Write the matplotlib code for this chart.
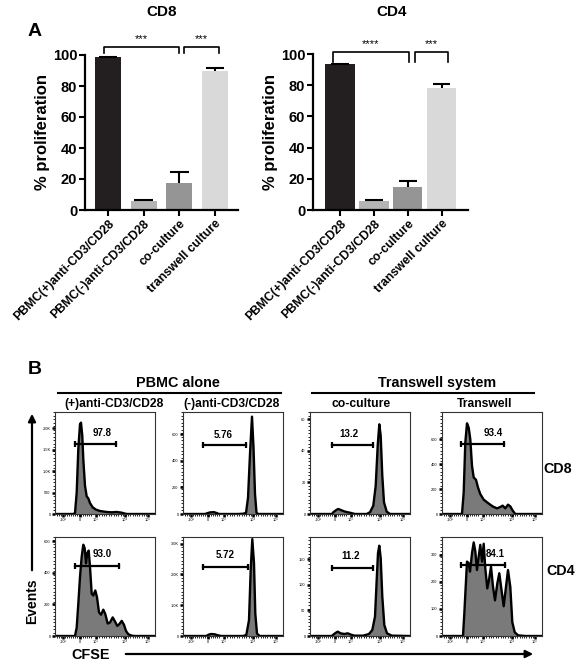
import numpy as np
import matplotlib
matplotlib.use("Agg")
import matplotlib.pyplot as plt
from matplotlib.patches import FancyArrowPatch
from matplotlib.lines import Line2D

plt.rcParams['font.family'] = ['Liberation Sans', 'DejaVu Sans']
plt.rcParams['font.weight'] = 'bold'

# ---------------- Panel A data ----------------
conditions = ["PBMC(+)anti-CD3/CD28", "PBMC(-)anti-CD3/CD28", "co-culture", "transwell culture"]
cd8_values = [98.5, 6.0, 17.5, 90.0]
cd8_errors = [0.3, 0.3, 7.0, 1.5]
cd4_values = [93.5, 6.0, 14.8, 78.3]
cd4_errors = [0.3, 0.3, 3.9, 2.5]
bar_colors = ["#231f20", "#b4b4b4", "#959595", "#d9d9d9"]
cd8_sig = ["***", "***"]
cd4_sig = ["****", "***"]

# ---------------- Panel B data (histograms, x in display channel 0-100) ----------------
x_tick_pos = [8, 24.5, 40.5, 70, 92.5]
x_tick_labels = ["-10³", "0", "10³", "10⁴", "10⁵"]

h_cd8_pos_x = [0, 18.3, 20, 21.7, 23.3, 25, 26, 27.3, 28.3, 30, 31.7, 33.3, 35, 37.7, 41, 45, 51.7, 56.7, 61.7, 66.7, 70, 72.3, 100]
h_cd8_pos_y = [0, 0, 23, 504, 1512, 2093, 2132, 1822, 1279, 659, 411, 364, 256, 155, 101, 70, 47, 39, 47, 31, 8, 0, 0]
h_cd8_neg_x = [0, 22, 24, 27, 31, 34, 36, 55, 60, 63, 65, 67, 69, 70.5, 72, 73.5, 75, 100]
h_cd8_neg_y = [0, 0, 5, 12, 14, 6, 0, 0, 2, 8, 120, 450, 730, 500, 150, 10, 0, 0]
h_cd8_co_x = [0, 22, 23.3, 26.7, 28.3, 31.7, 35, 40, 45, 56.7, 60, 63.3, 65.7, 67.7, 69.3, 70.7, 72.3, 74, 76.7, 80, 100]
h_cd8_co_y = [0, 0, 1.1, 2.7, 3.2, 2.3, 1.5, 0.8, 0, 0, 1.1, 5.3, 17.9, 43.2, 56.8, 49.5, 24.2, 7.4, 1.5, 0, 0]
h_cd8_tw_x = [0, 20, 21.7, 23.3, 25, 26.7, 28.3, 30, 31.7, 34, 36, 38.3, 41.7, 46, 50.7, 55, 58.3, 60.7, 63.3, 66, 68.3, 70.7, 73.3, 100]
h_cd8_tw_y = [0, 0, 173, 573, 728, 693, 600, 387, 293, 275, 213, 160, 115, 88, 61, 45, 56, 67, 45, 75, 61, 27, 0, 0]

h_cd4_pos_x = [0, 20, 21.7, 23.3, 25, 26.7, 28.3, 29.7, 31, 32.3, 33.7, 35, 36.7, 38.3, 40.3, 42, 44, 46, 48.3, 50.3, 52.7, 55, 57.7, 60, 62.3, 64.3, 66.7, 69, 71, 73.3, 76.7, 80, 100]
h_cd4_pos_y = [0, 0, 54, 204, 375, 504, 579, 557, 461, 525, 542, 439, 268, 257, 289, 246, 150, 135, 167, 139, 79, 86, 118, 92, 64, 75, 96, 71, 32, 11, 2, 0, 0]
h_cd4_neg_x = [0, 23.3, 25.7, 28.3, 31.7, 35, 38.3, 60, 63.3, 66, 67.7, 69.3, 71, 72.3, 74, 76.7, 100]
h_cd4_neg_y = [0, 0, 44, 65, 55, 22, 0, 0, 33, 513, 2148, 3150, 2366, 731, 76, 0, 0]
h_cd4_co_x = [0, 21.7, 25, 27.7, 30.7, 34.3, 37.7, 41, 44.3, 53.3, 59, 62.3, 65, 66.7, 68, 69.3, 70.7, 72.3, 74.3, 77, 81.7, 100]
h_cd4_co_y = [0, 0, 5.2, 8.5, 5.2, 3.9, 5.2, 2.6, 0.7, 0.7, 3.9, 11.7, 37.8, 109.5, 161.7, 176, 151.9, 76.9, 21.5, 5.2, 0.7, 0]
h_cd4_tw_x = [0, 21, 22.3, 23.7, 25, 26.7, 28, 30, 31.7, 33.3, 35, 36.7, 38.3, 40, 41.7, 43.3, 45.3, 47, 49, 51, 53, 55.3, 57.3, 59.3, 61.7, 64, 66, 68.3, 70.3, 72.7, 76, 83.3, 100]
h_cd4_tw_y = [0, 0, 82, 182, 275, 269, 238, 306, 346, 313, 244, 294, 337, 275, 341, 250, 176, 207, 257, 182, 132, 194, 232, 176, 110, 182, 244, 182, 51, 14, 2.5, 0, 0]

hist_ymax = [2380, 765, 64.6, 819, 628, 3217, 193, 366]
hist_yticks = [[0, 500, 1000, 1500, 2000], [0, 200, 400, 600], [0, 20, 40, 60], [0, 200, 400, 600],
               [0, 200, 400, 600], [0, 1000, 2000, 3000], [0, 50, 100, 150], [0, 100, 200, 300]]
hist_yticklabels = [["0", "500", "1.0K", "1.5K", "2.0K"], ["0", "200", "400", "600"], ["0", "20", "40", "60"],
                    ["0", "200", "400", "600"], ["0", "200", "400", "600"], ["0", "1.0K", "2.0K", "3.0K"],
                    ["0", "50", "100", "150"], ["0", "100", "200", "300"]]
gate_labels = ["97.8", "5.76", "13.2", "93.4", "93.0", "5.72", "11.2", "84.1"]
gate_x0 = [20, 20, 22, 19, 20, 20, 22, 19]
gate_x1 = [61, 63, 63, 61.7, 64, 65, 63, 62.7]
gate_y = [1636, 519, 43.6, 560, 444, 2257, 132, 263]
label_x = [46.7, 40, 39, 51.7, 46.7, 41.7, 40.7, 53.3]
label_y = [1884, 593, 50.5, 648, 521, 2639, 156, 304]

column_labels = ["(+)anti-CD3/CD28", "(-)anti-CD3/CD28", "co-culture", "Transwell"]
group_labels = ["PBMC alone", "Transwell system"]
row_labels = ["CD8", "CD4"]

hist_x = [h_cd8_pos_x, h_cd8_neg_x, h_cd8_co_x, h_cd8_tw_x, h_cd4_pos_x, h_cd4_neg_x, h_cd4_co_x, h_cd4_tw_x]
hist_y = [h_cd8_pos_y, h_cd8_neg_y, h_cd8_co_y, h_cd8_tw_y, h_cd4_pos_y, h_cd4_neg_y, h_cd4_co_y, h_cd4_tw_y]

# ---------------- figure ----------------
W, H = 579, 663
fig = plt.figure(figsize=(W / 100, H / 100), dpi=100)


def rect(l, t, r, b):
    return [l / W, 1 - b / H, (r - l) / W, (b - t) / H]


def ftext(px, py, s, **kw):
    fig.text(px / W, 1 - py / H, s, **kw)


def bar_panel(box, xlim, width, values, errors, sig, brackets, title, title_xy):
    ax = fig.add_axes(rect(*box))
    x = np.arange(len(values))
    ax.bar(x, values, width=width, color=bar_colors, edgecolor='none', zorder=2)
    ax.vlines(x, values, np.array(values) + np.array(errors), color='black', lw=1.5, zorder=3)
    ax.hlines(np.array(values) + np.array(errors), x - 0.26, x + 0.26, color='black', lw=1.5, zorder=3)
    ax.set_xlim(*xlim)
    ax.set_ylim(0, 100)
    ax.set_yticks([0, 20, 40, 60, 80, 100])
    ax.set_xticks(x)
    ax.set_xticklabels(conditions, rotation=45, ha='right', rotation_mode='anchor', fontsize=8.8, fontweight='bold')
    for t in ax.get_yticklabels():
        t.set_fontsize(10.5)
        t.set_fontweight('bold')
    for s in ['top', 'right']:
        ax.spines[s].set_visible(False)
    for s in ['left', 'bottom']:
        ax.spines[s].set_linewidth(1.6)
    ax.tick_params(axis='both', length=4, width=1.5, pad=1.5)
    ax.set_ylabel("% proliferation", fontsize=12, fontweight='bold', labelpad=2)
    for (x1, x2, yt, yl, ytxt), s in zip(brackets, sig):
        ax.plot([x1, x1, x2, x2], [yl, yt, yt, yl], color='black', lw=1.2, clip_on=False)
        ax.text((x1 + x2) / 2, ytxt, s, ha='center', va='center', fontsize=8, fontweight='normal', clip_on=False)
    ftext(title_xy[0], title_xy[1], title, ha='center', va='center', fontsize=11, fontweight='bold')
    return ax


bar_panel((85, 55, 238, 210), (-0.64, 3.64), 0.73, cd8_values, cd8_errors, cd8_sig,
          [(-0.1, 1.98, 105.2, 101, 110.5), (2.14, 3.1, 105.2, 101, 110.5)], "CD8", (162, 11.5))
bar_panel((313, 54, 468, 210), (-0.8, 3.78), 0.87, cd4_values, cd4_errors, cd4_sig,
          [(-0.22, 2.03, 101.3, 95, 106.3), (2.2, 3.2, 101.3, 95, 106.3)], "CD4", (392, 12))

ftext(35, 31.5, "A", ha='center', va='center', fontsize=14, fontweight='bold')
ftext(35, 370, "B", ha='center', va='center', fontsize=14, fontweight='bold')

# ---------------- Panel B ----------------
col_lr = [(55, 155), (183, 283), (310, 410), (442, 542)]
row_tb = [(412, 514), (537, 636)]
minor_x = np.concatenate([np.linspace(2, 36, 18), np.linspace(42, 68, 12), np.linspace(71, 91, 10)])

for i in range(8):
    r, c = divmod(i, 4)
    l, rr = col_lr[c]
    t, b = row_tb[r]
    ax = fig.add_axes(rect(l, t, rr, b))
    ax.fill_between(hist_x[i], hist_y[i], 0, color='#7a7a7a', lw=0, zorder=1)
    ax.plot(hist_x[i], hist_y[i], color='black', lw=1.7, zorder=2, solid_joinstyle='round')
    ax.set_xlim(0, 100)
    ax.set_ylim(0, hist_ymax[i])
    ax.set_xticks(x_tick_pos)
    ax.set_xticklabels(x_tick_labels, fontsize=2.8, fontweight='normal')
    ax.set_yticks(hist_yticks[i])
    ax.set_yticklabels(hist_yticklabels[i], fontsize=2.8, fontweight='normal')
    ax.set_xticks(minor_x, minor=True)
    ax.set_yticks(np.linspace(0, hist_ymax[i], 30), minor=True)
    ax.tick_params(axis='both', which='major', length=2, width=1.8, pad=1.2)
    ax.tick_params(axis='both', which='minor', length=1.2, width=0.6)
    for s in ax.spines.values():
        s.set_linewidth(0.8)
        s.set_color('#333333')
    ax.plot([gate_x0[i], gate_x1[i]], [gate_y[i], gate_y[i]], color='black', lw=1.6, zorder=3)
    ax.plot([gate_x0[i], gate_x1[i]], [gate_y[i], gate_y[i]], ls='none', marker='|', ms=5, mew=1.6,
            color='black', zorder=3)
    ax.text(label_x[i], label_y[i], gate_labels[i], ha='center', va='center', fontsize=7, fontweight='bold', zorder=4)

# column and group labels
col_centers = [114.5, 232, 361, 485]
for cx, s in zip(col_centers, column_labels):
    ftext(cx, 404, s, ha='center', va='center', fontsize=8.7, fontweight='bold')
ftext(178, 383, group_labels[0], ha='center', va='center', fontsize=10.4, fontweight='bold')
ftext(437.5, 383, group_labels[1], ha='center', va='center', fontsize=10.3, fontweight='bold')
for (x1, x2) in [(58, 281), (312, 534)]:
    fig.add_artist(Line2D([x1 / W, x2 / W], [1 - 393 / H, 1 - 393 / H], color='black', lw=1.5))
ftext(558, 469, row_labels[0], ha='center', va='center', fontsize=10.3, fontweight='bold')
ftext(560.5, 571, row_labels[1], ha='center', va='center', fontsize=10.3, fontweight='bold')

# axis arrows
fig.add_artist(FancyArrowPatch((32 / W, 1 - 573 / H), (32 / W, 1 - 411 / H), transform=fig.transFigure,
                               arrowstyle='-|>', mutation_scale=11, lw=1.6, color='black'))
fig.add_artist(FancyArrowPatch((123 / W, 1 - 654 / H), (536 / W, 1 - 654 / H), transform=fig.transFigure,
                               arrowstyle='-|>', mutation_scale=11, lw=1.6, color='black'))
ftext(32, 601, "Events", ha='center', va='center', rotation=90, fontsize=10, fontweight='bold')
ftext(91, 655, "CFSE", ha='center', va='center', fontsize=10.4, fontweight='bold')

fig.savefig("out.png", dpi=100)
